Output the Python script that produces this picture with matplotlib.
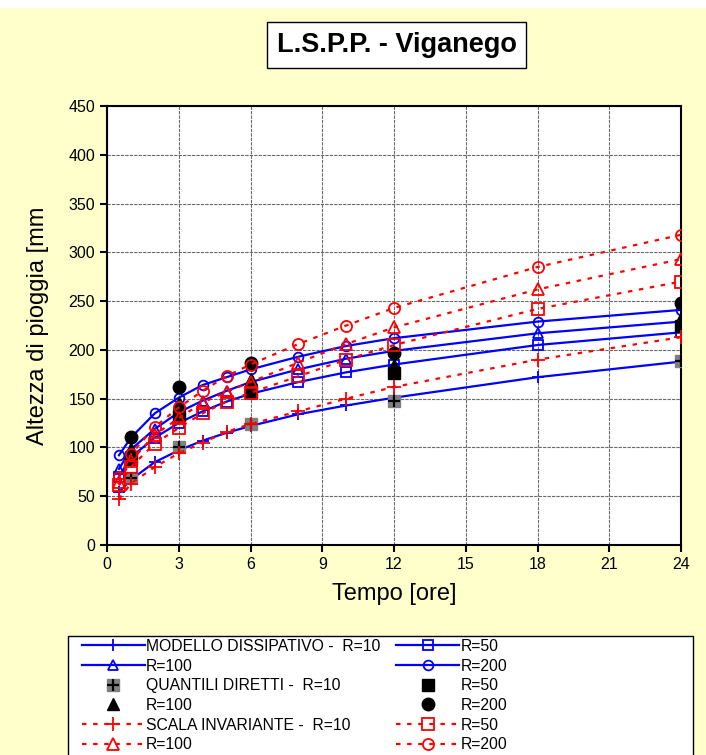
import matplotlib.pyplot as plt
from matplotlib.patches import Rectangle
from matplotlib.legend_handler import HandlerTuple

plt.rcParams['font.family'] = ['Liberation Sans', 'DejaVu Sans']

# durations [ore]
t_mod = [0.5, 1, 2, 3, 4, 5, 6, 8, 10, 12, 18, 24]
t_qd = [1, 3, 6, 12, 24]

# modello dissipativo
md_10 = [54, 67, 85, 97, 107, 115, 122, 134, 143, 151, 172, 188]
md_50 = [70, 90, 110, 125, 137, 147, 155, 167, 177, 185, 205, 218]
md_100 = [78, 98, 119, 136, 148, 158, 167, 180, 191, 199, 217, 229]
md_200 = [92, 110, 135, 151, 164, 172, 180, 193, 204, 212, 229, 241]

# quantili diretti
qd_10 = [69, 100, 124, 148, 189]
qd_50 = [88, 132, 157, 176, 224]
qd_100 = [98, 146, 170, 184, 233]
qd_200 = [111, 162, 187, 197, 248]

# scala invariante
si_10 = [47, 63, 80, 94, 105, 116, 124, 137, 150, 162, 190, 213]
si_50 = [61, 80, 104, 120, 135, 147, 156, 173, 190, 205, 242, 270]
si_100 = [65, 86, 113, 130, 146, 157, 167, 187, 206, 223, 262, 293]
si_200 = [70, 93, 121, 141, 158, 173, 185, 206, 225, 243, 285, 318]

W, H = 706, 755
fig = plt.figure(figsize=(W / 100, H / 100), dpi=100)
fig.patch.set_facecolor('#FFFFCC')
fig.patches.append(Rectangle((0, 1 - 8 / H), 1, 8 / H, transform=fig.transFigure,
                             facecolor='white', edgecolor='none', zorder=0))

ax = fig.add_axes([107 / W, 1 - 545 / H, 574 / W, 439 / H])
ax.set_facecolor('white')

blue = '#0000FF'
red = '#FF0000'
bkw = dict(color=blue, lw=1.6, mew=1.3, mfc='none', zorder=3)
h_md10, = ax.plot(t_mod, md_10, marker='+', ms=9, **bkw)
h_md50, = ax.plot(t_mod, md_50, marker='s', ms=7, **bkw)
h_md100, = ax.plot(t_mod, md_100, marker='^', ms=7, **bkw)
h_md200, = ax.plot(t_mod, md_200, marker='o', ms=7, **bkw)

h_qd10a, = ax.plot(t_qd, qd_10, ls='none', marker='s', ms=9, mfc='#808080', mec='#808080', zorder=4)
h_qd10b, = ax.plot(t_qd, qd_10, ls='none', marker='+', ms=9, mew=1.6, color='black', zorder=4)
h_qd50, = ax.plot(t_qd, qd_50, ls='none', marker='s', ms=8, color='black', zorder=4)
h_qd100, = ax.plot(t_qd, qd_100, ls='none', marker='^', ms=9, color='black', zorder=4)
h_qd200, = ax.plot(t_qd, qd_200, ls='none', marker='o', ms=9, color='black', zorder=4)

rkw = dict(color=red, lw=1.6, ls=(0, (2, 3)), mew=1.3, mfc='none', zorder=5)
h_si10, = ax.plot(t_mod, si_10, marker='+', ms=10, **rkw)
h_si50, = ax.plot(t_mod, si_50, marker='s', ms=8, **rkw)
h_si100, = ax.plot(t_mod, si_100, marker='^', ms=8, **rkw)
h_si200, = ax.plot(t_mod, si_200, marker='o', ms=8, **rkw)

ax.set_xlim(0, 24)
ax.set_ylim(0, 450)
ax.set_xticks(range(0, 25, 3))
ax.set_yticks(range(0, 451, 50))
ax.grid(True, color='#6a6a6a', lw=0.8, ls=(0, (3, 1)))
ax.set_axisbelow(True)
for s in ax.spines.values():
    s.set_linewidth(1.5)
    s.set_color('black')
ax.tick_params(direction='out', length=5, width=1.5, labelsize=11.5)
ax.set_xlabel('Tempo [ore]', fontsize=17, labelpad=8)
ax.set_ylabel('Altezza di pioggia [mm', fontsize=17, labelpad=14)

# title box
fig.patches.append(Rectangle((267 / W, 1 - 68 / H), 259 / W, 46 / H, transform=fig.transFigure,
                             facecolor='white', edgecolor='black', lw=1, zorder=1))
fig.text(397 / W, 1 - 45 / H, 'L.S.P.P. - Viganego', ha='center', va='center',
         fontsize=19.5, fontweight='bold', zorder=2)

# legend box
fig.patches.append(Rectangle((68 / W, -0.05), 625 / W, 0.05 + 1 - 636 / H, transform=fig.transFigure,
                             facecolor='white', edgecolor='black', lw=1, zorder=1))

handles = [h_md10, h_md100, (h_qd10a, h_qd10b), h_qd100, h_si10, h_si100,
           h_md50, h_md200, h_qd50, h_qd200, h_si50, h_si200]
labels = ['MODELLO DISSIPATIVO -  R=10', 'R=100', 'QUANTILI DIRETTI -  R=10', 'R=100',
          'SCALA INVARIANTE -  R=10', 'R=100',
          'R=50', 'R=200', 'R=50', 'R=200', 'R=50', 'R=200']
leg = fig.legend(handles, labels, ncol=2, loc='upper left', bbox_to_anchor=(74 / W, 1 - 631 / H),
                 frameon=False, fontsize=11.3, handlelength=4.0, handletextpad=0.1,
                 labelspacing=0.3, columnspacing=1.0, numpoints=1,
                 handler_map={tuple: HandlerTuple(ndivide=1)}, borderpad=0)
leg.set_zorder(3)

fig.savefig('out.png', dpi=100, facecolor=fig.get_facecolor())
